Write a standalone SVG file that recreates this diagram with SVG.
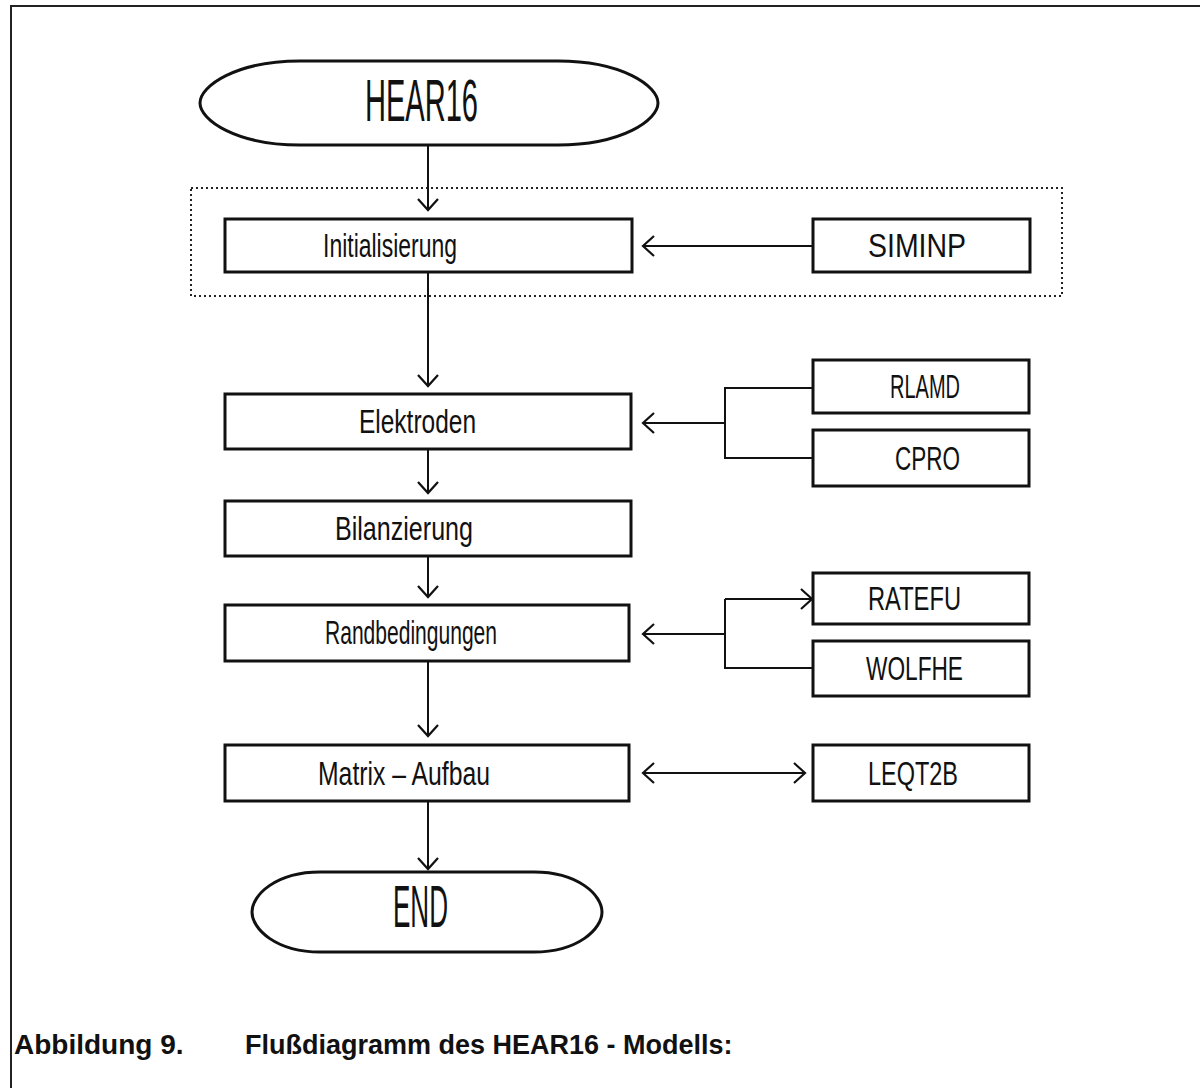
<svg xmlns="http://www.w3.org/2000/svg" width="1200" height="1088" viewBox="0 0 1200 1088">
<style>
.bx{fill:#fff;stroke:#111;stroke-width:3}
.term{fill:#fff;stroke:#111;stroke-width:3}
.t{font-family:"Liberation Sans Narrow","Liberation Sans",Arial,sans-serif;font-size:34px;fill:#111}
.big{font-size:60px}
.ln{fill:none;stroke:#111;stroke-width:2}
.cap{font-family:"Liberation Sans",Arial,sans-serif;font-weight:bold;font-size:27px;fill:#111}
</style>
<defs>
<marker id="ah" markerUnits="userSpaceOnUse" markerWidth="30" markerHeight="30" refX="0" refY="0" viewBox="-15 -15 30 30" orient="auto-start-reverse" overflow="visible">
<path d="M-11,-10 L0,0 L-11,10" fill="none" stroke="#111" stroke-width="2.2"/>
</marker>
</defs>
<rect width="1200" height="1088" fill="#fff"/>
<path d="M11,1088 L11,6 L1200,6" fill="none" stroke="#222" stroke-width="2"/>
<rect id="group-init" x="191" y="188" width="871" height="108" fill="none" stroke="#222" stroke-width="2" stroke-dasharray="2 3"/>

<g id="connectors">
<path class="ln" d="M428,145 L428,210" marker-end="url(#ah)"/>
<path class="ln" d="M428,272 L428,386" marker-end="url(#ah)"/>
<path class="ln" d="M428,449 L428,493" marker-end="url(#ah)"/>
<path class="ln" d="M428,556 L428,597" marker-end="url(#ah)"/>
<path class="ln" d="M428,661 L428,736" marker-end="url(#ah)"/>
<path class="ln" d="M428,801 L428,869" marker-end="url(#ah)"/>
<path class="ln" d="M813,246 L643,246" marker-end="url(#ah)"/>
<path class="ln" d="M725,423 L643,423" marker-end="url(#ah)"/>
<path class="ln" d="M813,388 L725,388 L725,458 L813,458"/>
<path class="ln" d="M725,634 L643,634" marker-end="url(#ah)"/>
<path class="ln" d="M725,599 L812,599" marker-end="url(#ah)"/>
<path class="ln" d="M725,599 L725,668 L813,668"/>
<path class="ln" d="M643,773 L805,773" marker-start="url(#ah)" marker-end="url(#ah)"/>
</g>

<g id="hear16">
<path class="term" d="M300,61 L558,61 C622,61 658,86 658,103 C658,120 622,145 558,145 L300,145 C236,145 200,120 200,103 C200,86 236,61 300,61 Z"/>
<text class="t big" x="365" y="121" textLength="113" lengthAdjust="spacingAndGlyphs">HEAR16</text>
</g>
<g id="initialisierung">
<rect class="bx" x="225" y="219" width="407" height="53"/>
<text class="t" x="323" y="257" textLength="134" lengthAdjust="spacingAndGlyphs">Initialisierung</text>
</g>
<g id="siminp">
<rect class="bx" x="813" y="219" width="217" height="53"/>
<text class="t" x="868" y="257" textLength="98" lengthAdjust="spacingAndGlyphs">SIMINP</text>
</g>
<g id="elektroden">
<rect class="bx" x="225" y="394" width="406" height="55"/>
<text class="t" x="359" y="433" textLength="117" lengthAdjust="spacingAndGlyphs">Elektroden</text>
</g>
<g id="rlamd">
<rect class="bx" x="813" y="360" width="216" height="53"/>
<text class="t" x="890" y="398" textLength="70" lengthAdjust="spacingAndGlyphs">RLAMD</text>
</g>
<g id="cpro">
<rect class="bx" x="813" y="430" width="216" height="56"/>
<text class="t" x="895" y="470" textLength="65" lengthAdjust="spacingAndGlyphs">CPRO</text>
</g>
<g id="bilanzierung">
<rect class="bx" x="225" y="501" width="406" height="55"/>
<text class="t" x="335" y="540" textLength="138" lengthAdjust="spacingAndGlyphs">Bilanzierung</text>
</g>
<g id="randbedingungen">
<rect class="bx" x="225" y="605" width="404" height="56"/>
<text class="t" x="325" y="644" textLength="172" lengthAdjust="spacingAndGlyphs">Randbedingungen</text>
</g>
<g id="ratefu">
<rect class="bx" x="813" y="573" width="216" height="51"/>
<text class="t" x="868" y="610" textLength="93" lengthAdjust="spacingAndGlyphs">RATEFU</text>
</g>
<g id="wolfhe">
<rect class="bx" x="813" y="641" width="216" height="55"/>
<text class="t" x="866" y="680" textLength="97" lengthAdjust="spacingAndGlyphs">WOLFHE</text>
</g>
<g id="matrix">
<rect class="bx" x="225" y="745" width="404" height="56"/>
<text class="t" x="318" y="785" textLength="172" lengthAdjust="spacingAndGlyphs">Matrix – Aufbau</text>
</g>
<g id="leqt2b">
<rect class="bx" x="813" y="745" width="216" height="56"/>
<text class="t" x="868" y="785" textLength="90" lengthAdjust="spacingAndGlyphs">LEQT2B</text>
</g>
<g id="end">
<path class="term" d="M320,872 L534,872 C578,872 602,895 602,912 C602,929 578,952 534,952 L320,952 C276,952 252,929 252,912 C252,895 276,872 320,872 Z"/>
<text class="t big" x="393" y="927" textLength="55" lengthAdjust="spacingAndGlyphs">END</text>
</g>

<text class="cap" x="14" y="1054" style="font-size:28px">Abbildung 9.</text>
<text class="cap" x="245" y="1054">Flußdiagramm des HEAR16 - Modells:</text>
</svg>
